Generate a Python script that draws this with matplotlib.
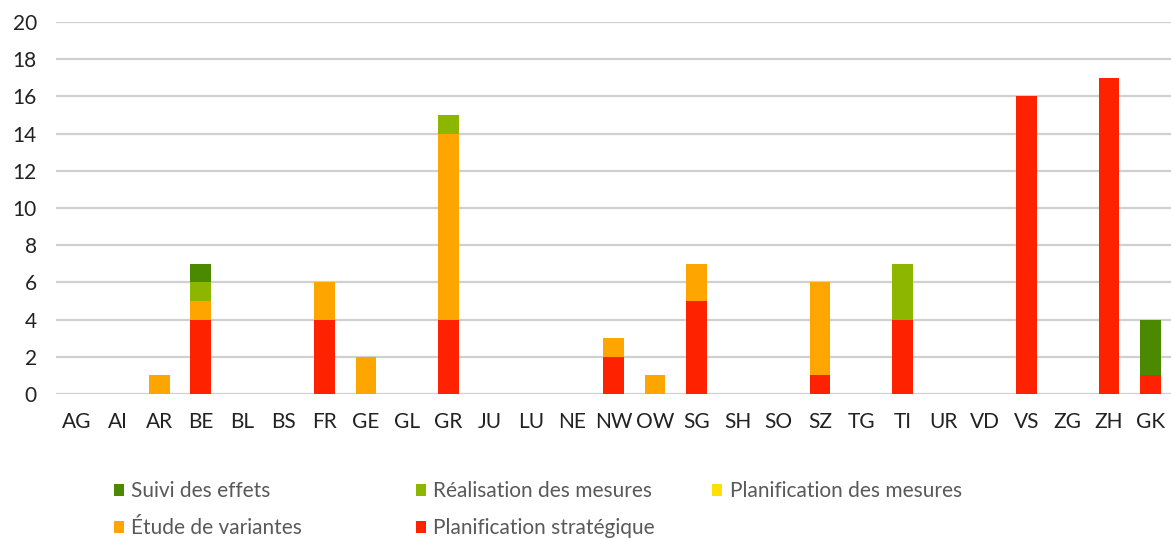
import numpy as np
from matplotlib import pyplot as plt

plt.rcParams['font.family'] = ['Lato', 'DejaVu Sans']

cantons = ['AG', 'AI', 'AR', 'BE', 'BL', 'BS', 'FR', 'GE', 'GL', 'GR', 'JU', 'LU', 'NE', 'NW',
           'OW', 'SG', 'SH', 'SO', 'SZ', 'TG', 'TI', 'UR', 'VD', 'VS', 'ZG', 'ZH', 'GK']

# stacked bottom -> top
plan_strat  = [0, 0, 0, 4, 0, 0, 4, 0, 0, 4, 0, 0, 0, 2, 0, 5, 0, 0, 1, 0, 4, 0, 0, 16, 0, 17, 1]
etude_var   = [0, 0, 1, 1, 0, 0, 2, 2, 0, 10, 0, 0, 0, 1, 1, 2, 0, 0, 5, 0, 0, 0, 0, 0, 0, 0, 0]
plan_mes    = [0] * 27
realisation = [0, 0, 0, 1, 0, 0, 0, 0, 0, 1, 0, 0, 0, 0, 0, 0, 0, 0, 0, 0, 3, 0, 0, 0, 0, 0, 0]
suivi       = [0, 0, 0, 1, 0, 0, 0, 0, 0, 0, 0, 0, 0, 0, 0, 0, 0, 0, 0, 0, 0, 0, 0, 0, 0, 0, 3]

series = [
    ('Planification stratégique', plan_strat, '#ff2200'),
    ('Étude de variantes', etude_var, '#ffa500'),
    ('Planification des mesures', plan_mes, '#ffe000'),
    ('Réalisation des mesures', realisation, '#8db600'),
    ('Suivi des effets', suivi, '#4b8a00'),
]

fig = plt.figure(figsize=(11.71, 5.39), dpi=100)
ax = fig.add_axes([0.048, 0.269, 0.952, 0.69])

x = np.arange(len(cantons))
bottom = np.zeros(len(cantons))
handles = {}
for name, vals, col in series:
    vals = np.array(vals, dtype=float)
    b = ax.bar(x, vals, 0.5, bottom=bottom, color=col, label=name, zorder=3)
    handles[name] = b
    bottom += vals

ax.set_xlim(-0.5, len(cantons) - 0.5)
ax.set_ylim(0, 20)
ax.set_yticks(range(0, 21, 2))
ax.set_xticks(x)
ax.set_xticklabels(cantons)
ax.tick_params(axis='both', length=0, labelsize=15, colors='#222222')
ax.tick_params(axis='x', pad=13)
ax.tick_params(axis='y', pad=14)
ax.yaxis.grid(True, color='#d0d0d0', linewidth=1.6, zorder=0)
for s in ax.spines.values():
    s.set_visible(False)

# legend laid out in fixed-width columns like the original
cols = [(['Suivi des effets', 'Étude de variantes'], 0.097),
        (['Réalisation des mesures', 'Planification stratégique'], 0.355),
        (['Planification des mesures'], 0.608)]
for names, xpos in cols:
    leg = fig.legend([handles[n] for n in names], names, loc='upper left',
                     bbox_to_anchor=(xpos, 0.107), frameon=False, fontsize=15,
                     handlelength=0.5, handleheight=0.5, handletextpad=0.35,
                     labelspacing=0.8, borderaxespad=0, borderpad=0)
    for t in leg.get_texts():
        t.set_color('#595959')

plt.savefig('out.png')
plt.close()
